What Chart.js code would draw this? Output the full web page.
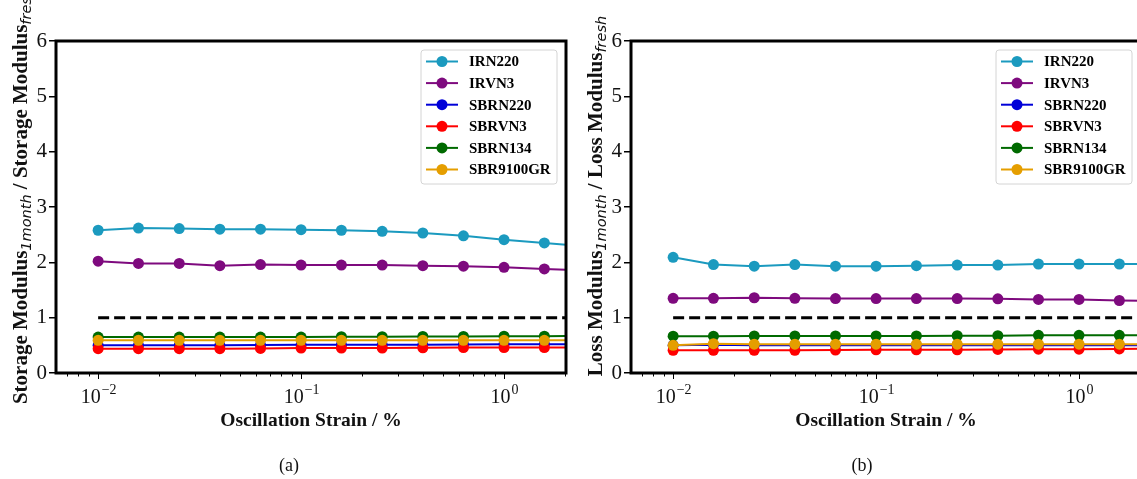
<!DOCTYPE html>
<html>
<head>
<meta charset="utf-8">
<title>Modulus ratio vs oscillation strain</title>
<script src="https://cdn.jsdelivr.net/npm/chart.js@4.4.1/dist/chart.umd.min.js"></script>
<style>
  html, body { margin: 0; padding: 0; background: #fff; }
  #page { position: relative; width: 1137px; height: 479px; overflow: hidden; }
  .panel { position: absolute; top: 0; width: 575px; height: 479px; }
  .caption { position: absolute; top: 455px; width: 100px; text-align: center;
    font: 18px "Liberation Serif", serif; color: #111; }
</style>
</head>
<body>
<div id="page">
  <div class="panel" style="left:0"><canvas id="storage" width="575" height="479"></canvas></div>
  <div class="panel" style="left:575px"><canvas id="loss" width="575" height="479"></canvas></div>
  <div class="caption" style="left:239px">(a)</div>
  <div class="caption" style="left:812px">(b)</div>
</div>
<script>
var strain = [0.01, 0.0158, 0.0251, 0.0398, 0.0631, 0.1, 0.158, 0.251, 0.398, 0.631, 1.0, 1.58, 2.51];
var samples = ["IRN220", "IRVN3", "SBRN220", "SBRVN3", "SBRN134", "SBR9100GR"];

var colors = {
  IRN220: "#1b9abf",
  IRVN3: "#7e0a7e",
  SBRN220: "#0000d8",
  SBRVN3: "#ff0000",
  SBRN134: "#006a00",
  SBR9100GR: "#e59e00",
};

// storage modulus ratio (1 month / fresh)
var storageIRN220 = [2.58, 2.62, 2.61, 2.6, 2.6, 2.59, 2.58, 2.56, 2.53, 2.48, 2.41, 2.35, 2.29];
var storageIRVN3 = [2.02, 1.98, 1.98, 1.94, 1.96, 1.95, 1.95, 1.95, 1.94, 1.93, 1.91, 1.88, 1.85];
var storageSBRN220 = [0.5, 0.5, 0.5, 0.5, 0.505, 0.51, 0.51, 0.51, 0.51, 0.515, 0.52, 0.52, 0.52];
var storageSBRVN3 = [0.44, 0.44, 0.44, 0.44, 0.445, 0.45, 0.45, 0.45, 0.455, 0.46, 0.46, 0.46, 0.465];
var storageSBRN134 = [0.65, 0.65, 0.65, 0.65, 0.65, 0.65, 0.655, 0.655, 0.66, 0.66, 0.665, 0.665, 0.67];
var storageSBR9100GR = [0.59, 0.59, 0.59, 0.59, 0.59, 0.59, 0.59, 0.59, 0.59, 0.59, 0.59, 0.59, 0.59];

// loss modulus ratio (1 month / fresh)
var lossIRN220 = [2.09, 1.96, 1.93, 1.96, 1.93, 1.93, 1.94, 1.95, 1.95, 1.97, 1.97, 1.97, 1.97];
var lossIRVN3 = [1.35, 1.35, 1.36, 1.35, 1.345, 1.345, 1.345, 1.345, 1.34, 1.33, 1.33, 1.31, 1.3];
var lossSBRN220 = [0.5, 0.51, 0.5, 0.5, 0.5, 0.5, 0.5, 0.5, 0.5, 0.5, 0.5, 0.5, 0.5];
var lossSBRVN3 = [0.41, 0.41, 0.41, 0.41, 0.415, 0.42, 0.42, 0.42, 0.425, 0.43, 0.43, 0.435, 0.44];
var lossSBRN134 = [0.665, 0.665, 0.67, 0.67, 0.67, 0.67, 0.67, 0.675, 0.675, 0.68, 0.68, 0.68, 0.68];
var lossSBR9100GR = [0.5, 0.53, 0.52, 0.52, 0.52, 0.52, 0.52, 0.52, 0.52, 0.52, 0.52, 0.52, 0.52];

// no-change line
var reference = 1;
var referenceStrain = [0.01, 10];

var yTicks = [0, 1, 2, 3, 4, 5, 6];
var xDecades = [-2, -1, 0];
var xMin = 0.0062;
var xMax = 2.02;

var serif = "'Liberation Serif', 'Times New Roman', serif";

function makeDatasets(series) {
  var sets = samples.map((name, i) => ({
    label: name,
    data: strain.map((x, j) => ({ x: x, y: series[i][j] })),
    borderColor: colors[name],
    backgroundColor: colors[name],
    borderWidth: 2,
    pointRadius: 5.5,
    pointHoverRadius: 5.5,
    pointBorderWidth: 0,
    order: samples.length - i,
    clip: 0,
  }));
  sets.push({
    label: "reference",
    data: referenceStrain.map((x) => ({ x: x, y: reference })),
    borderColor: "#000",
    borderWidth: 3,
    borderDash: [11, 5],
    pointRadius: 0,
    order: samples.length + 1,
    clip: 0,
  });
  return sets;
}

function drawTitle(ctx, parts, cx, cy) {
  ctx.save();
  ctx.translate(cx, cy);
  ctx.rotate(-Math.PI / 2);
  var total = 0;
  parts.forEach((p) => {
    ctx.font = p.font;
    total += ctx.measureText(p.text).width;
  });
  var x = -total / 2;
  ctx.fillStyle = "#111";
  ctx.textBaseline = "alphabetic";
  parts.forEach((p) => {
    ctx.font = p.font;
    ctx.fillText(p.text, x, 7 + p.dy);
    x += ctx.measureText(p.text).width;
  });
  ctx.restore();
}

function drawLegend(ctx, area) {
  var w = 136, h = 134;
  var left = area.right - 9 - w, top = area.top + 9;
  ctx.save();
  ctx.beginPath();
  ctx.roundRect(left, top, w, h, 3);
  ctx.fillStyle = "rgba(255,255,255,0.85)";
  ctx.fill();
  ctx.strokeStyle = "#d4d4d4";
  ctx.lineWidth = 1;
  ctx.stroke();
  ctx.font = "bold 15px " + serif;
  ctx.textBaseline = "middle";
  samples.forEach((name, i) => {
    var y = top + 11.5 + i * 21.6;
    ctx.strokeStyle = colors[name];
    ctx.lineWidth = 2;
    ctx.beginPath();
    ctx.moveTo(left + 5, y);
    ctx.lineTo(left + 37, y);
    ctx.stroke();
    ctx.fillStyle = colors[name];
    ctx.beginPath();
    ctx.arc(left + 21, y, 5.5, 0, Math.PI * 2);
    ctx.fill();
    ctx.fillStyle = "#000";
    ctx.fillText(name, left + 48, y + 1);
  });
  ctx.restore();
}

function panelPlugin(quantity) {
  return {
    id: "panel",
    afterDraw: function (chart) {
      var ctx = chart.ctx;
      var area = chart.chartArea;
      var xs = chart.scales.x;

      // log tick marks, longer at each decade
      ctx.save();
      ctx.strokeStyle = "#000";
      ctx.lineWidth = 1;
      [-3, -2, -1, 0].forEach((e) => {
        for (var m = 1; m < 10; m++) {
          var v = m * Math.pow(10, e);
          if (v < xs.min || v > xs.max) continue;
          var px = Math.round(xs.getPixelForValue(v)) + 0.5;
          ctx.beginPath();
          ctx.moveTo(px, area.bottom);
          ctx.lineTo(px, area.bottom + (m === 1 ? 6 : 3.5));
          ctx.stroke();
        }
      });

      // decade labels 10^n
      ctx.fillStyle = "#111";
      ctx.textBaseline = "alphabetic";
      xDecades.forEach((e) => {
        var px = xs.getPixelForValue(Math.pow(10, e));
        var sup = e < 0 ? "\u2212" + -e : String(e);
        ctx.font = "20px " + serif;
        var wb = ctx.measureText("10").width;
        ctx.font = "14px " + serif;
        var ws = ctx.measureText(sup).width;
        var x0 = px - (wb + ws) / 2;
        ctx.font = "20px " + serif;
        ctx.fillText("10", x0, area.bottom + 30);
        ctx.font = "14px " + serif;
        ctx.fillText(sup, x0 + wb + 1, area.bottom + 21);
      });

      ctx.font = "bold 19.5px " + serif;
      ctx.textAlign = "center";
      ctx.fillText("Oscillation Strain / %", (area.left + area.right) / 2, area.bottom + 53);
      ctx.restore();

      var bold = "bold 21px " + serif;
      var sub = "italic 14.5px 'DejaVu Sans', sans-serif";
      drawTitle(ctx, [
        { text: quantity + " Modulus", font: bold, dy: 0 },
        { text: "1month", font: sub, dy: 4 },
        { text: " / " + quantity + " Modulus", font: bold, dy: 0 },
        { text: "fresh", font: sub, dy: 4 },
      ], area.left - 36, 196);

      // axes frame
      ctx.save();
      ctx.strokeStyle = "#000";
      ctx.lineWidth = 3;
      ctx.strokeRect(area.left, area.top, area.right - area.left, area.bottom - area.top);
      ctx.restore();

      drawLegend(ctx, area);
    },
  };
}

function makeChart(id, quantity, series) {
  return new Chart(document.getElementById(id), {
    type: "line",
    data: { datasets: makeDatasets(series) },
    options: {
      responsive: false,
      animation: false,
      events: [],
      layout: { padding: { top: 41, right: 9, left: 0, bottom: 0 } },
      scales: {
        x: {
          type: "logarithmic",
          min: xMin,
          max: xMax,
          grid: { display: false },
          border: { display: false },
          ticks: { display: false },
          afterFit: (scale) => { scale.height = 106; },
        },
        y: {
          min: yTicks[0],
          max: yTicks[yTicks.length - 1],
          afterBuildTicks: (scale) => { scale.ticks = yTicks.map((v) => ({ value: v })); },
          grid: { drawOnChartArea: false, tickLength: 7, color: "#000", lineWidth: 1.5 },
          border: { display: false },
          ticks: { font: { family: serif, size: 21 }, color: "#111", padding: 2 },
          afterFit: (scale) => { scale.width = 56; },
        },
      },
      plugins: {
        legend: { display: false },
        tooltip: { enabled: false },
      },
    },
    plugins: [panelPlugin(quantity)],
  });
}

makeChart("storage", "Storage", [storageIRN220, storageIRVN3, storageSBRN220, storageSBRVN3, storageSBRN134, storageSBR9100GR]);
makeChart("loss", "Loss", [lossIRN220, lossIRVN3, lossSBRN220, lossSBRVN3, lossSBRN134, lossSBR9100GR]);
</script>
</body>
</html>
